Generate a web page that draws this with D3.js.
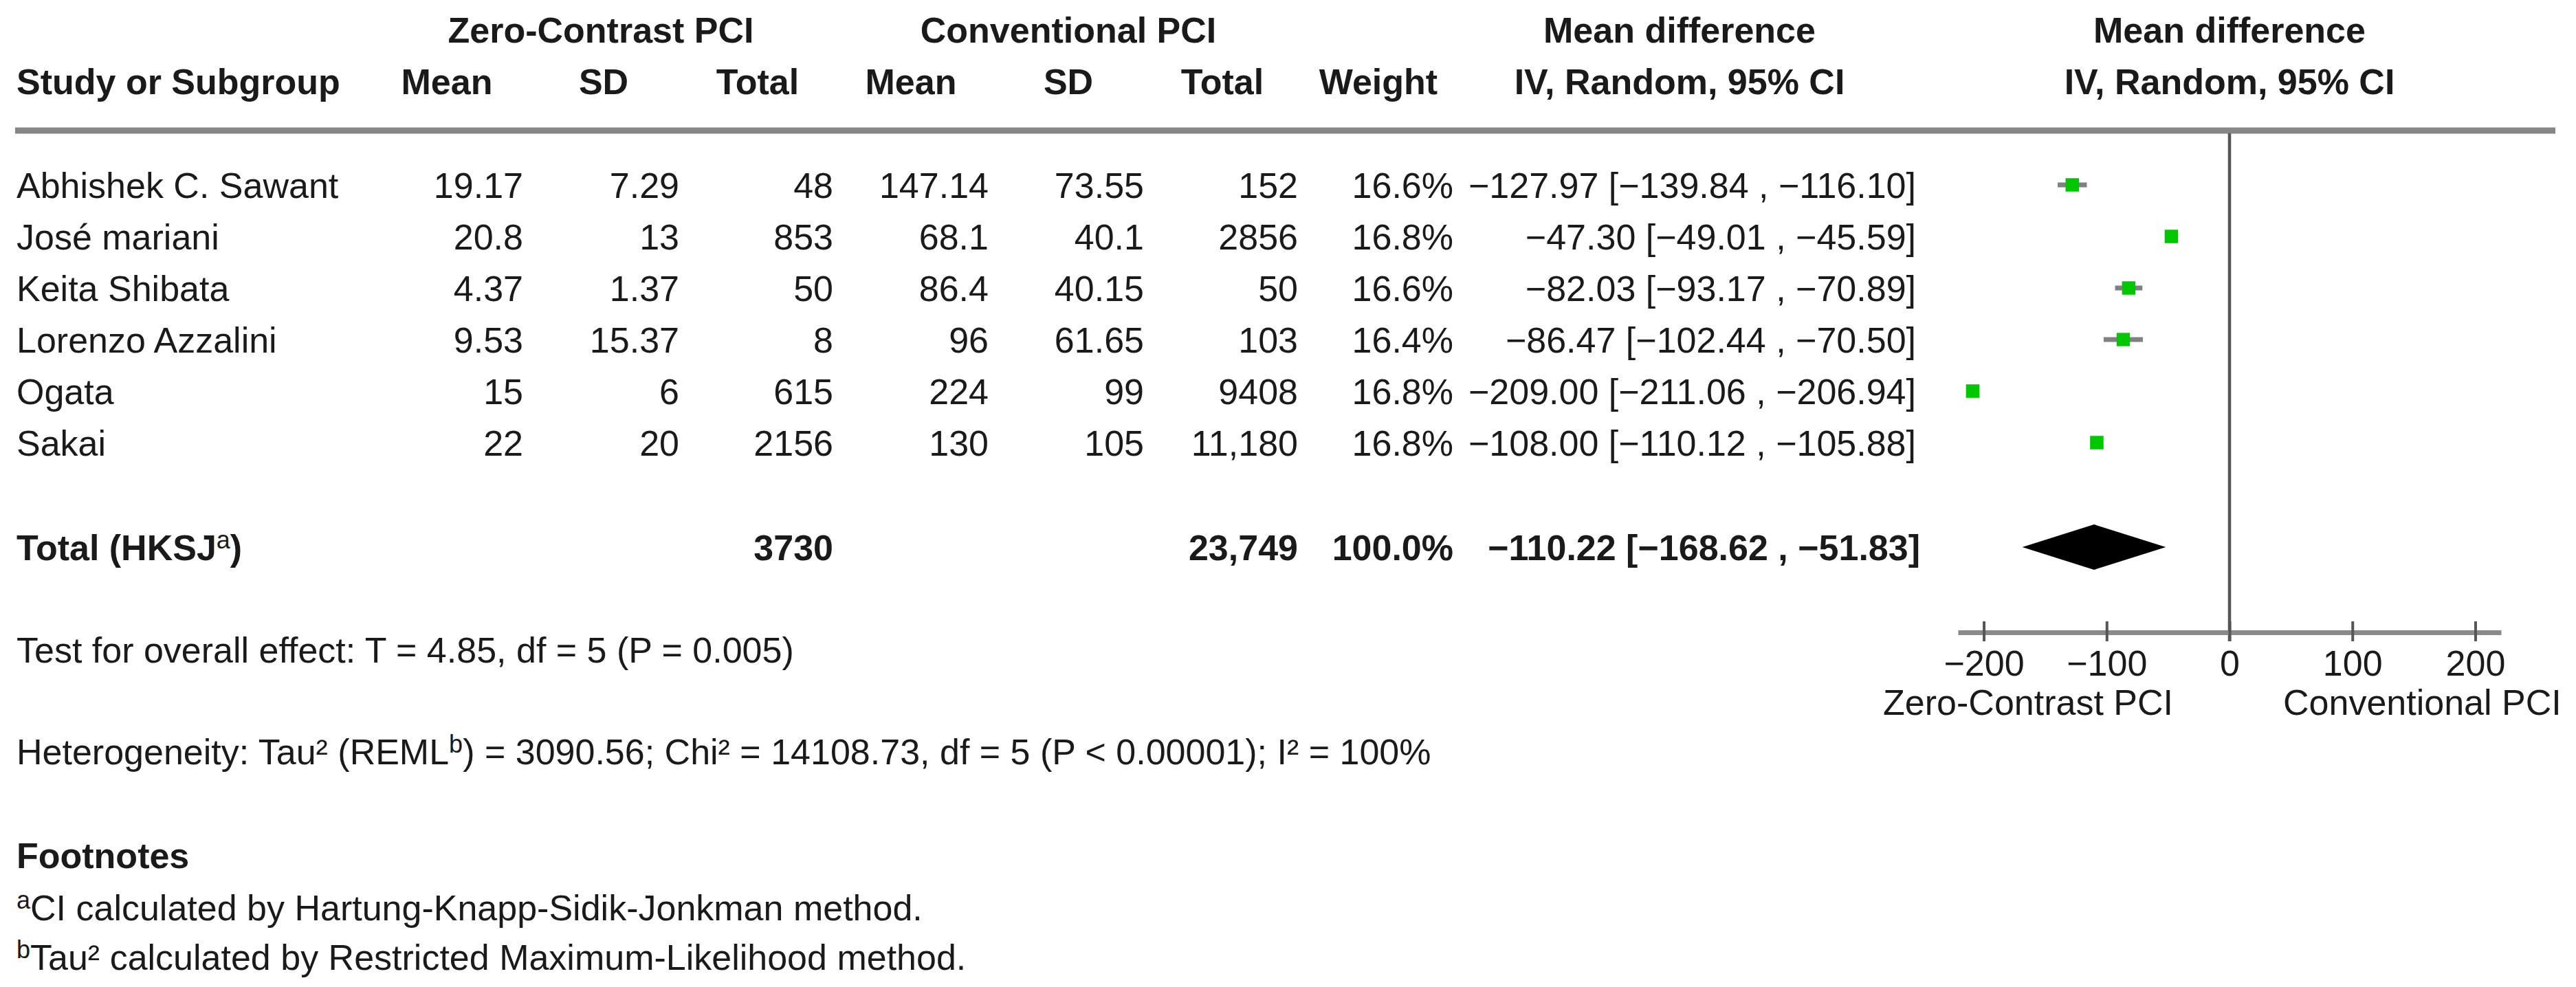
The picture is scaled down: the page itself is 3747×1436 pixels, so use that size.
<!DOCTYPE html>
<html>
<head>
<meta charset="utf-8">
<script src="https://cdn.jsdelivr.net/npm/d3@7"></script>
<style>
  html, body { margin: 0; padding: 0; background: #fff; }
  svg { display: block; }
  text { font-family: "Liberation Sans", Arial, "DejaVu Sans", sans-serif; fill: #1a1a1a; }
</style>
</head>
<body>
<svg id="chart" width="3747" height="1436"></svg>
<script>
// ---------------- data ----------------
const studies   = ["Abhishek C. Sawant", "José mariani", "Keita Shibata", "Lorenzo Azzalini", "Ogata", "Sakai"];
const zcMean    = [19.17, 20.8, 4.37, 9.53, 15, 22];
const zcSD      = [7.29, 13, 1.37, 15.37, 6, 20];
const zcTotal   = [48, 853, 50, 8, 615, 2156];
const cvMean    = [147.14, 68.1, 86.4, 96, 224, 130];
const cvSD      = [73.55, 40.1, 40.15, 61.65, 99, 105];
const cvTotal   = [152, 2856, 50, 103, 9408, 11180];
const weights   = [16.6, 16.8, 16.6, 16.4, 16.8, 16.8];
const mdEst     = [-127.97, -47.30, -82.03, -86.47, -209.00, -108.00];
const mdLow     = [-139.84, -49.01, -93.17, -102.44, -211.06, -110.12];
const mdHigh    = [-116.10, -45.59, -70.89, -70.50, -206.94, -105.88];
const totalLabel = "Total (HKSJ";
const pooledTotals = [3730, 23749];
const pooledWeight = 100.0;
const pooledMD  = [-110.22, -168.62, -51.83]; // estimate, low, high
const tickValues = [-200, -100, 0, 100, 200];
const tickLabels = ["\u2212200", "\u2212100", "0", "100", "200"];
const groupHeaders = ["Zero-Contrast PCI", "Conventional PCI"];
const colHeaders = ["Mean", "SD", "Total", "Mean", "SD", "Total", "Weight"];
const axisLabels = ["Zero-Contrast PCI", "Conventional PCI"];

// ---------------- helpers ----------------
const minus = s => s.replace(/-/g, "\u2212");
const fmtN = v => v >= 10000 ? d3.format(",")(v) : String(v);
const fmt2 = v => minus(v.toFixed(2));
const fmtCI = (e, l, h) => `${fmt2(e)} [${fmt2(l)} , ${fmt2(h)}]`;

const svg = d3.select("#chart");
const FS = 52;
const SUP = 36, SUPDY = 17;

// ---------------- scales ----------------
const x = d3.scaleLinear().domain([-221, 221]).range([2848, 3638]);
const y = d3.scalePoint().domain(studies).range([269, 644]);
const totalY = 796;
const cap = 19; // baseline offset from row centre

// column anchors
const colRight = [761, 988, 1212, 1438, 1664, 1888, 2114];
const colHeadCenter = [650, 878, 1102, 1325, 1554, 1778, 2005];
const ciRight = 2787;
const ciHeadCenter = 2443;
const leftX = 24;

// ---------------- header ----------------
const head = svg.append("g").attr("font-weight", "bold").attr("font-size", FS);
head.append("text").attr("x", 874).attr("y", 62).attr("text-anchor", "middle").text(groupHeaders[0]);
head.append("text").attr("x", 1554).attr("y", 62).attr("text-anchor", "middle").text(groupHeaders[1]);
head.append("text").attr("x", ciHeadCenter).attr("y", 62).attr("text-anchor", "middle").text("Mean difference");
head.append("text").attr("x", x(0)).attr("y", 62).attr("text-anchor", "middle").text("Mean difference");

head.append("text").attr("x", leftX).attr("y", 137).text("Study or Subgroup");
head.selectAll("text.ch").data(colHeaders).join("text").attr("class", "ch")
  .attr("x", (d, i) => colHeadCenter[i]).attr("y", 137).attr("text-anchor", "middle").text(d => d);
head.append("text").attr("x", ciHeadCenter).attr("y", 137).attr("text-anchor", "middle").text("IV, Random, 95% CI");
head.append("text").attr("x", x(0)).attr("y", 137).attr("text-anchor", "middle").text("IV, Random, 95% CI");

// header rule
svg.append("line").attr("x1", 22).attr("x2", 3717).attr("y1", 190).attr("y2", 190)
  .attr("stroke", "#858585").attr("stroke-width", 9);

// zero line
svg.append("line").attr("x1", x(0)).attr("x2", x(0)).attr("y1", 194).attr("y2", 933)
  .attr("stroke", "#555").attr("stroke-width", 4.5);

// ---------------- study rows ----------------
const rows = studies.map((s, i) => ({
  s, cells: [zcMean[i], zcSD[i], fmtN(zcTotal[i]), cvMean[i], cvSD[i], fmtN(cvTotal[i]), weights[i].toFixed(1) + "%"],
  e: mdEst[i], l: mdLow[i], h: mdHigh[i], w: weights[i]
}));

const rg = svg.append("g").attr("font-size", FS);
const row = rg.selectAll("g.row").data(rows).join("g").attr("class", "row");
row.append("text").attr("x", leftX).attr("y", d => y(d.s) + cap).text(d => d.s);
row.each(function(d) {
  const g = d3.select(this);
  g.selectAll("text.c").data(d.cells).join("text").attr("class", "c")
    .attr("x", (c, j) => colRight[j]).attr("y", y(d.s) + cap).attr("text-anchor", "end").text(c => c);
  g.append("text").attr("x", ciRight).attr("y", y(d.s) + cap).attr("text-anchor", "end")
    .text(fmtCI(d.e, d.l, d.h));
});

// CI lines and markers
const plot = svg.append("g");
plot.selectAll("line.ci").data(rows).join("line").attr("class", "ci")
  .attr("x1", d => x(d.l)).attr("x2", d => x(d.h))
  .attr("y1", d => y(d.s)).attr("y2", d => y(d.s))
  .attr("stroke", "#808080").attr("stroke-width", 7);
const sz = d => 19.5 * Math.sqrt(d.w / 16.7);
plot.selectAll("rect.m").data(rows).join("rect").attr("class", "m")
  .attr("x", d => x(d.e) - sz(d) / 2).attr("y", d => y(d.s) - sz(d) / 2)
  .attr("width", sz).attr("height", sz)
  .attr("fill", "#00c800");

// ---------------- total row ----------------
const tg = svg.append("g").attr("font-size", FS).attr("font-weight", "bold");
const tt = tg.append("text").attr("x", leftX).attr("y", totalY + cap);
tt.append("tspan").text(totalLabel);
tt.append("tspan").attr("font-size", SUP).attr("dy", -SUPDY).attr("font-weight", "normal").text("a");
tt.append("tspan").attr("dy", SUPDY).text(")");
tg.append("text").attr("x", colRight[2]).attr("y", totalY + cap).attr("text-anchor", "end").text(fmtN(pooledTotals[0]));
tg.append("text").attr("x", colRight[5]).attr("y", totalY + cap).attr("text-anchor", "end").text(fmtN(pooledTotals[1]));
tg.append("text").attr("x", colRight[6]).attr("y", totalY + cap).attr("text-anchor", "end").text(pooledWeight.toFixed(1) + "%");
tg.append("text").attr("x", ciRight + 6).attr("y", totalY + cap).attr("text-anchor", "end")
  .text(fmtCI(pooledMD[0], pooledMD[1], pooledMD[2]));

// diamond
const dh = 33;
plot.append("path")
  .attr("d", `M${x(pooledMD[1])},${totalY} L${x(pooledMD[0])},${totalY - dh} L${x(pooledMD[2])},${totalY} L${x(pooledMD[0])},${totalY + dh} Z`)
  .attr("fill", "#000");

// ---------------- axis ----------------
const axisY = 920;
const axis = d3.axisBottom(x).tickValues(tickValues).tickFormat((d, i) => tickLabels[i]).tickSizeOuter(0);
const ag = svg.append("g").attr("transform", `translate(0,${axisY})`).call(axis);
ag.select(".domain").attr("stroke", "#8a8a8a").attr("stroke-width", 7);
ag.selectAll(".tick line").attr("y1", -16).attr("y2", 13).attr("stroke", "#555").attr("stroke-width", 4);
ag.selectAll(".tick text").attr("y", 63).attr("dy", null)
  .attr("font-size", FS).attr("fill", "#1a1a1a")
  .attr("font-family", "\"Liberation Sans\", Arial, sans-serif");
ag.attr("font-size", FS);

svg.append("text").attr("font-size", FS).attr("x", x(0) - 82).attr("y", 1040).attr("text-anchor", "end").text(axisLabels[0]);
svg.append("text").attr("font-size", FS).attr("x", x(0) + 78).attr("y", 1040).attr("text-anchor", "start").text(axisLabels[1]);

// ---------------- notes ----------------
const ng = svg.append("g").attr("font-size", FS);
ng.append("text").attr("x", leftX).attr("y", 964).text("Test for overall effect: T = 4.85, df = 5 (P = 0.005)");
const het = ng.append("text").attr("x", leftX).attr("y", 1112);
het.append("tspan").text("Heterogeneity: Tau\u00b2 (REML");
het.append("tspan").attr("font-size", SUP).attr("dy", -SUPDY).text("b");
het.append("tspan").attr("dy", SUPDY).text(") = 3090.56; Chi\u00b2 = 14108.73, df = 5 (P < 0.00001); I\u00b2 = 100%");

ng.append("text").attr("x", leftX).attr("y", 1263).attr("font-weight", "bold").text("Footnotes");
const f1 = ng.append("text").attr("x", leftX).attr("y", 1339);
f1.append("tspan").attr("font-size", SUP).attr("dy", -SUPDY).text("a");
f1.append("tspan").attr("dy", SUPDY).text("CI calculated by Hartung-Knapp-Sidik-Jonkman method.");
const f2 = ng.append("text").attr("x", leftX).attr("y", 1411);
f2.append("tspan").attr("font-size", SUP).attr("dy", -SUPDY).text("b");
f2.append("tspan").attr("dy", SUPDY).text("Tau\u00b2 calculated by Restricted Maximum-Likelihood method.");
</script>
</body>
</html>
